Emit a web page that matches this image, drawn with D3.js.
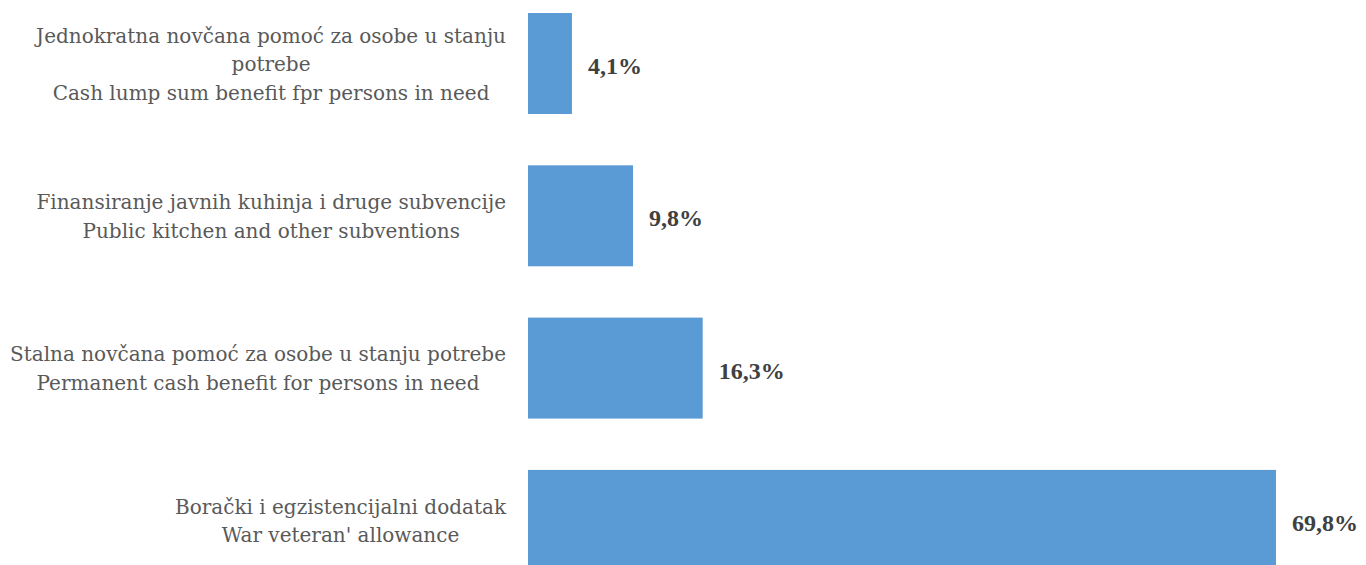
<!DOCTYPE html>
<html>
<head>
<meta charset="utf-8">
<script src="https://cdn.jsdelivr.net/npm/d3@7"></script>
<style>
  html, body { margin: 0; padding: 0; background: #fff; }
  svg { display: block; }
</style>
</head>
<body>
<div id="chart"></div>
<script>
// Category labels (each line of a label separated by \n)
const categories = [
  'Jednokratna novčana pomoć za osobe u stanju\npotrebe\nCash lump sum benefit fpr persons in need',
  'Finansiranje javnih kuhinja i druge subvencije\nPublic kitchen and other subventions',
  'Stalna novčana pomoć za osobe u stanju potrebe\nPermanent cash benefit for persons in need',
  'Borački i egzistencijalni dodatak\nWar veteran\' allowance',
];

// Share in percent
const values = [4.1, 9.8, 16.3, 69.8];

const width = 1366;
const height = 565;
const axisX = 528;
const lineHeight = 28.5;

const svg = d3
  .select('#chart')
  .append('svg')
  .attr('width', width)
  .attr('height', height);

const x = d3
  .scaleLinear()
  .domain([0, 70])
  .range([axisX, axisX + 70 * 10.716]);

const y = d3
  .scaleBand()
  .domain(d3.range(categories.length))
  .range([-12.65, 596.55])
  .paddingInner(0.337)
  .paddingOuter(0.1685);

// Bars
svg
  .selectAll('rect.bar')
  .data(values)
  .enter()
  .append('rect')
  .attr('class', 'bar')
  .attr('x', x(0))
  .attr('y', (d, i) => y(i))
  .attr('width', (d) => x(d) - x(0))
  .attr('height', y.bandwidth())
  .attr('fill', '#5B9BD5');

// Value labels
svg
  .selectAll('text.value')
  .data(values)
  .enter()
  .append('text')
  .attr('class', 'value')
  .attr('x', (d) => x(d) + 16)
  .attr('y', (d, i) => y(i) + y.bandwidth() / 2 + 10.5)
  .style('font-family', '"Liberation Serif", serif')
  .style('font-weight', 'bold')
  .style('font-size', '24px')
  .style('fill', '#404040')
  .text((d) => d.toFixed(1).replace('.', ',') + '%');

// Category labels, lines centred, block right-aligned to the gap before the axis
const labels = svg
  .selectAll('text.cat')
  .data(categories)
  .enter()
  .append('text')
  .attr('class', 'cat')
  .attr('text-anchor', 'middle')
  .style('font-family', '"DejaVu Serif", serif')
  .style('font-size', '20px')
  .style('fill', '#595959');

labels.each(function (d, i) {
  const lines = d.split('\n');
  const cy = y(i) + y.bandwidth() / 2;
  const t = d3.select(this);
  lines.forEach(function (line, j) {
    t.append('tspan')
      .attr('y', cy + (j - (lines.length - 1) / 2) * lineHeight + 7.5)
      .text(line);
  });
  let maxW = 0;
  t.selectAll('tspan').each(function () {
    maxW = Math.max(maxW, this.getComputedTextLength());
  });
  t.selectAll('tspan').attr('x', axisX - 22 - maxW / 2);
});
</script>
</body>
</html>
